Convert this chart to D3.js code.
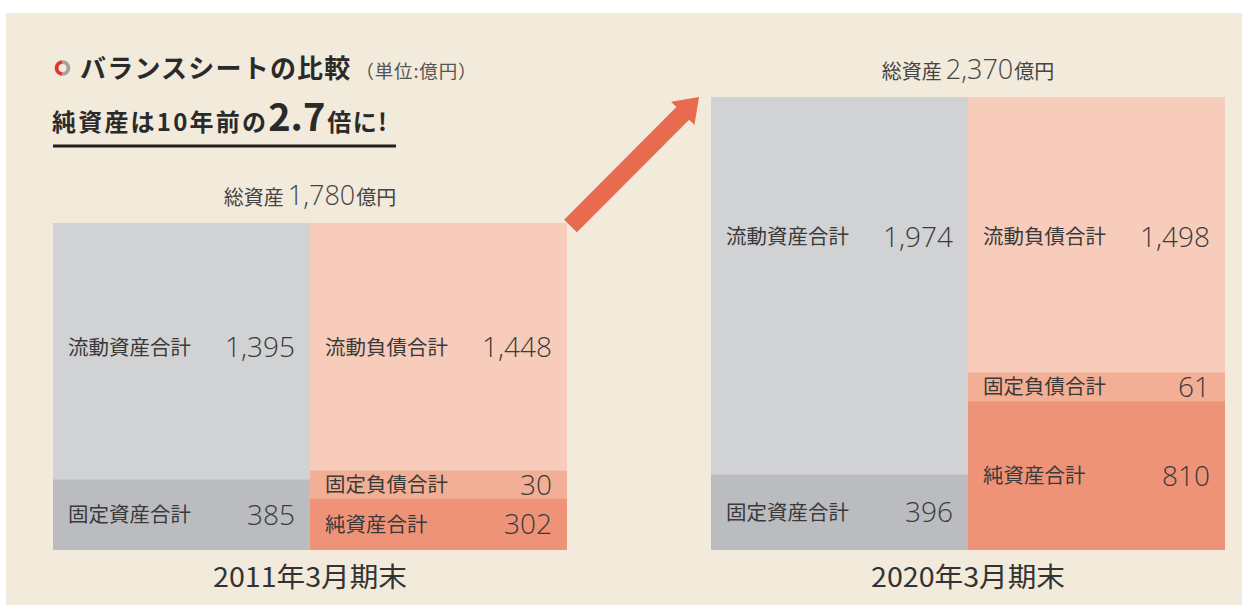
<!DOCTYPE html>
<html>
<head>
<meta charset="utf-8">
<script src="https://cdn.jsdelivr.net/npm/d3@7"></script>
<style>
  body { margin: 0; background: #ffffff; }
  svg { display: block; }
  text { font-family: "Noto Sans CJK JP", "Noto Sans", sans-serif; }
  .num { font-family: "Open Sans", "Noto Sans", sans-serif; font-weight: 300; }
</style>
</head>
<body>
<svg id="chart" width="1242" height="605"></svg>
<script>
// Balance sheet figures (unit: 億円)
const periods = ["2011年3月期末", "2020年3月期末"];
const totalAssets = [1780, 2370];
const assetItems = ["流動資産合計", "固定資産合計"];
const liabilityItems = ["流動負債合計", "固定負債合計", "純資産合計"];
const assets2011 = [1395, 385];
const assets2020 = [1974, 396];
const liabilities2011 = [1448, 30, 302];
const liabilities2020 = [1498, 61, 810];

const assetColors = ["#d1d2d4", "#bbbcc0"];
const liabilityColors = ["#f8ccbb", "#f3af95", "#ee9377"];
const textColor = "#3a3a3a";

const svg = d3.select("#chart");
const W = 1242, H = 605;

// beige panel
svg.append("rect").attr("x", 6).attr("y", 13).attr("width", W - 6).attr("height", H - 13)
  .attr("fill", "#f2eada");

// ---- heading ----
const ring = svg.append("g").attr("transform", "translate(62.5,68)");
const arc = d3.arc().innerRadius(4).outerRadius(7.8);
ring.append("path").attr("d", arc({ startAngle: Math.PI, endAngle: 2 * Math.PI })).attr("fill", "#e5322f");
ring.append("path").attr("d", arc({ startAngle: 0, endAngle: Math.PI })).attr("fill", "#a2a2a4");

const title = svg.append("text").attr("x", 80).attr("y", 78).attr("fill", "#2a2a2a");
title.append("tspan").attr("font-size", 26).attr("font-weight", 700).attr("letter-spacing", 1.2)
  .text("バランスシートの比較");
title.append("tspan").attr("dx", 4).attr("font-size", 18.5).attr("letter-spacing", 0.8)
  .attr("fill", "#555").text("（単位:億円）");

const sub = svg.append("text").attr("x", 52).attr("y", 131).attr("fill", "#2a2a2a").attr("font-weight", 700);
sub.append("tspan").attr("font-size", 24).attr("letter-spacing", 2.2).text("純資産は10年前の");
sub.append("tspan").attr("font-size", 38).text("2.7");
sub.append("tspan").attr("dx", 2).attr("font-size", 24).attr("letter-spacing", 1.3).text("倍に!");
svg.append("rect").attr("x", 53).attr("y", 144.5).attr("width", 343).attr("height", 3).attr("fill", "#231f1f");

// ---- blocks ----
const bottom = 550;
const blocks = [
  { x: 53, w: 514, h: 327, assets: assets2011, liabilities: liabilities2011 },
  { x: 711, w: 514, h: 453, assets: assets2020, liabilities: liabilities2020 }
];
const minBand = 30; // thinnest band that still fits its label

blocks.forEach((b, i) => {
  const total = totalAssets[i];
  const xScale = d3.scaleBand().domain(["assets", "liabilities"]).range([b.x, b.x + b.w]);
  const floorValue = minBand / b.h * total;

  function stackColumn(values) {
    const shown = values.map(v => Math.max(v, floorValue));
    const y = d3.scaleLinear().domain([0, d3.sum(shown)]).range([bottom - b.h, bottom]);
    let acc = 0;
    return values.map((v, k) => {
      const s = { value: v, y0: y(acc), y1: y(acc + shown[k]) };
      acc += shown[k];
      return s;
    });
  }

  const left = stackColumn(b.assets).map((s, k) => ({ ...s, key: "assets", label: assetItems[k], color: assetColors[k] }));
  const right = stackColumn(b.liabilities).map((s, k) => ({ ...s, key: "liabilities", label: liabilityItems[k], color: liabilityColors[k] }));
  const topLabelY = (bottom - b.h) + Math.min((left[0].y1 - left[0].y0) / 2 - 4, 140);

  const g = svg.append("g");
  [...left, ...right].forEach(s => {
    const x0 = xScale(s.key);
    g.append("rect").attr("x", x0).attr("y", s.y0)
      .attr("width", xScale.bandwidth()).attr("height", s.y1 - s.y0).attr("fill", s.color);
    const cy = s.y0 === bottom - b.h ? topLabelY : (s.y0 + s.y1) / 2;
    g.append("text").attr("x", x0 + 15).attr("y", cy).attr("dy", "0.36em")
      .attr("font-size", 20.5).attr("fill", textColor).text(s.label);
    g.append("text").attr("class", "num").attr("x", x0 + xScale.bandwidth() - 15).attr("y", cy).attr("dy", "0.36em")
      .attr("text-anchor", "end").attr("font-size", 28)
      .attr("fill", textColor).text(d3.format(",")(s.value));
  });

  // total assets heading above the block
  const t = svg.append("text").attr("x", b.x + b.w / 2).attr("y", bottom - b.h - 18)
    .attr("text-anchor", "middle").attr("fill", "#444");
  t.append("tspan").attr("font-size", 20).text("総資産");
  t.append("tspan").attr("class", "num").attr("dx", 4).attr("font-size", 27).text(d3.format(",")(total));
  t.append("tspan").attr("dx", 1).attr("font-size", 20).text("億円");

  // period caption
  svg.append("text").attr("x", b.x + b.w / 2).attr("y", 587)
    .attr("text-anchor", "middle").attr("font-size", 27).attr("fill", "#333")
    .attr("textLength", 194).attr("lengthAdjust", "spacingAndGlyphs")
    .text(periods[i]);
});

// ---- growth arrow between the two blocks ----
const tail = [570.5, 226], tip = [699, 97];
const dx = tip[0] - tail[0], dy = tip[1] - tail[1];
const len = Math.hypot(dx, dy);
const ux = dx / len, uy = dy / len, nx = -uy, ny = ux;
const shaftHalf = 9, headHalf = 16.5, headLen = 23;
const pt = (along, side) => [tail[0] + ux * along + nx * side, tail[1] + uy * along + ny * side];
const arrowPts = [
  pt(0, -shaftHalf), pt(len - headLen, -shaftHalf), pt(len - headLen, -headHalf),
  pt(len, 0),
  pt(len - headLen, headHalf), pt(len - headLen, shaftHalf), pt(0, shaftHalf)
];
svg.append("path").attr("d", d3.line()(arrowPts) + "Z").attr("fill", "#e86b4f");
</script>
</body>
</html>
